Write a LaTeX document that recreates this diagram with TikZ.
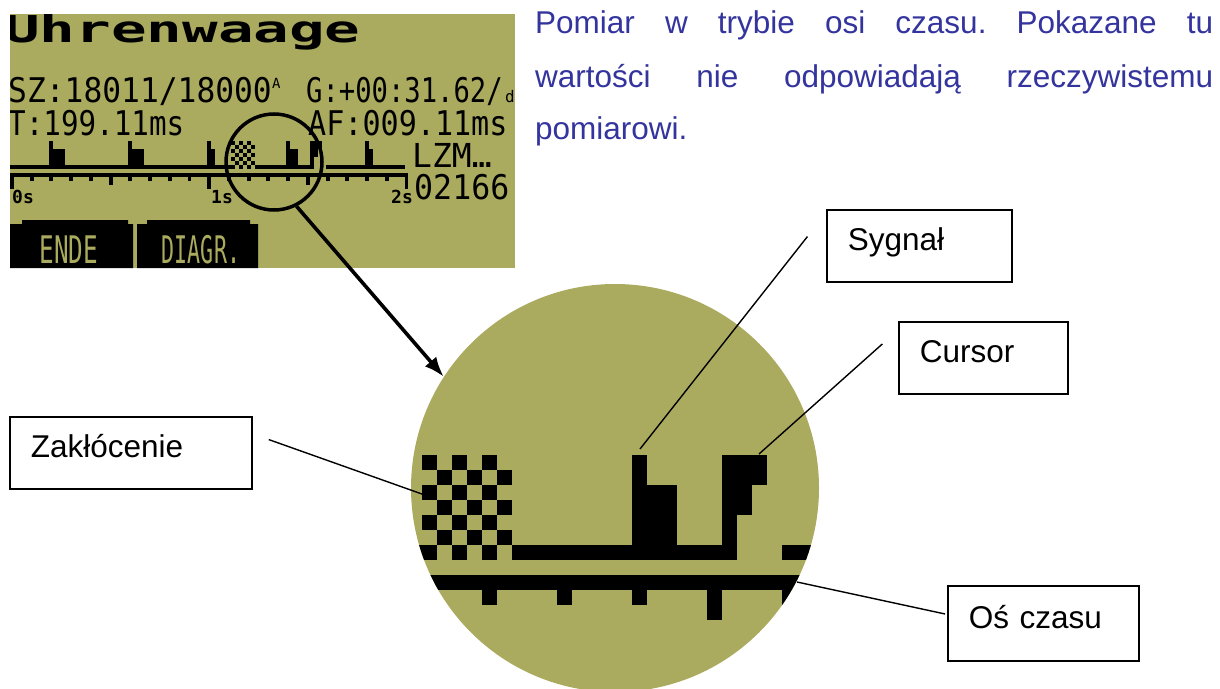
\documentclass[tikz,border=0pt]{standalone}
\usepackage{fontspec}
\setmainfont{Liberation Sans}
\newfontfamily\lcdfont{DejaVu Sans Mono}
\usetikzlibrary{arrows.meta}
\frenchspacing
\definecolor{lcdbg}{RGB}{171,171,96}
\definecolor{notecol}{RGB}{52,52,158}
% block of pixels of the 128x64 display: columns #1..#2, rows #3..#4
\newcommand\lrect[4]{\fill ({10+3.945*(#1)},{14+3.97*(#3)}) rectangle ({13.945+3.945*(#2)},{17.97+3.97*(#4)});}
% block of pixels of the magnified view: columns #1..#2, rows #3..#4
\newcommand\brect[4]{\fill ({422+15*(#1)},{455+15*(#3)}) rectangle ({437+15*(#2)},{470+15*(#4)});}
\tikzset{
  lcdtxt/.style={inner sep=0pt, anchor=base west, font=\lcdfont},
  btntxt/.style={inner sep=0pt, anchor=base, font=\lcdfont, text=lcdbg},
  labelbox/.style={draw, line width=1.8pt, inner xsep=21pt, inner ysep=0pt, align=left,
    text height=20pt, text depth=10pt, minimum height=72pt, anchor=north west,
    font=\fontsize{31.5}{36}\selectfont},
  leader/.style={line width=1.4pt},
  bigarrow/.style={line width=3.6pt, -{Latex[length=20pt,width=15pt]}},
  notetxt/.style={inner sep=0pt, anchor=base west, text=notecol, font=\fontsize{31.5}{36}\selectfont},
}
\begin{document}
\begin{tikzpicture}[x=1pt,y=-1pt]
\useasboundingbox (0,0) rectangle (1220,688);
\fill[white] (0,0) rectangle (1220,688);

% ---------- display ----------
\node[fill=lcdbg, minimum width=505pt, minimum height=254pt, inner sep=0pt, outer sep=0pt, anchor=north west] (lcd) at (10,14) {};
\begin{scope}
\clip (10,14) rectangle (515,268);
\node[lcdtxt] (title) at (4,42) {\fontsize{37}{37}\selectfont\bfseries\scalebox{1.6}[1]{Uhrenwaage}};
\node[lcdtxt] (sz) at (8,102) {\fontsize{34}{34}\selectfont\scalebox{0.92}[1]{SZ:18011/18000}};
\node[lcdtxt] (szsup) at (272,88) {\fontsize{14}{14}\selectfont A};
\node[lcdtxt] (gain) at (306,102) {\fontsize{34}{34}\selectfont\scalebox{0.80}[1]{G:+00:31.62/}};
\node[lcdtxt] (gainunit) at (505,102) {\fontsize{16}{16}\selectfont d};
\node[lcdtxt] (tper) at (8,135) {\fontsize{34}{34}\selectfont\scalebox{0.86}[1]{T:199.11ms}};
\node[lcdtxt] (af) at (308,135) {\fontsize{34}{34}\selectfont\scalebox{0.885}[1]{AF:009.11ms}};
\node[lcdtxt] (lzm) at (412,167) {\fontsize{33}{33}\selectfont LZM…};
\node[lcdtxt] (count) at (414,199) {\fontsize{34}{34}\selectfont\scalebox{0.93}[1]{02166}};
\node[lcdtxt] (t0) at (12,203) {\fontsize{18}{18}\selectfont\bfseries 0s};
\node[lcdtxt] (t1) at (211,203) {\fontsize{18}{18}\selectfont\bfseries 1s};
\node[lcdtxt] (t2) at (391,203) {\fontsize{18}{18}\selectfont\bfseries 2s};

% trace baseline
\lrect{0}{55}{38}{38}
\lrect{62}{76}{38}{38}
\lrect{80}{99}{38}{38}
% noise
\foreach \j in {32,34,36,38} {\foreach \i in {56,58,60} {\lrect{\i}{\i}{\j}{\j}}}
\foreach \j in {33,35,37} {\foreach \i in {57,59,61} {\lrect{\i}{\i}{\j}{\j}}}
% pulses
\foreach \i in {10,30,50,70,90} {\lrect{\i}{\i}{32}{37}}
\lrect{11}{13}{34}{37}
\lrect{31}{33}{34}{37}
\lrect{51}{51}{34}{37}
\lrect{71}{72}{34}{37}
\lrect{91}{91}{34}{37}
% cursor
\lrect{76}{78}{32}{33}
\lrect{76}{77}{34}{35}
\lrect{76}{76}{36}{37}
% time axis
\lrect{0}{100}{40}{40}
\foreach \i in {5,10,15,20,30,35,40,45,55,60,65,70,80,85,90,95} {\lrect{\i}{\i}{41}{41}}
\foreach \i in {25,75} {\lrect{\i}{\i}{41}{42}}
\foreach \i in {0,50,100} {\lrect{\i}{\i}{41}{43}}

% soft keys
\fill (10,268) -- (10,224) -- (22,224) -- (22,220) -- (128,220) -- (128,224) -- (133,224) -- (133,268) -- cycle;
\fill (137,268) -- (137,224) -- (147,224) -- (147,220) -- (250,220) -- (250,224) -- (258,224) -- (258,268) -- cycle;
\node[btntxt] (ende) at (69,263) {\fontsize{38}{38}\selectfont\scalebox{0.64}[1]{ENDE}};
\node[btntxt] (diagr) at (201,263) {\fontsize{38}{38}\selectfont\scalebox{0.57}[1]{DIAGR.}};
\end{scope}

% magnifier ring on the display
\node[circle, draw, line width=3.5pt, minimum size=96pt, inner sep=0pt] (lens) at (274,162) {};

% ---------- note ----------
\node[notetxt] (note1) at (535,33) {\makebox[678pt][s]{Pomiar w trybie osi czasu. Pokazane tu}};
\node[notetxt] (note2) at (535,87) {\makebox[678pt][s]{wartości nie odpowiadają rzeczywistemu}};
\node[notetxt] (note3) at (535,139.5) {pomiarowi.};

% ---------- magnified view ----------
\node[circle, fill=lcdbg, minimum size=408pt, inner sep=0pt] (mag) at (615,488) {};
\begin{scope}
\clip (615,488) circle[radius=204pt];
% trace baseline
\brect{-12}{-1}{6}{6}
\brect{6}{20}{6}{6}
\brect{24}{30}{6}{6}
% noise
\foreach \r in {0,2,4,6} {\foreach \c in {0,2,4} {\brect{\c}{\c}{\r}{\r}}}
\foreach \r in {1,3,5} {\foreach \c in {1,3,5} {\brect{\c}{\c}{\r}{\r}}}
% signal pulse
\brect{14}{14}{0}{5}
\brect{15}{16}{2}{5}
% cursor
\brect{20}{22}{0}{1}
\brect{20}{21}{2}{3}
\brect{20}{20}{4}{5}
% time axis
\brect{-12}{30}{8}{8}
\foreach \c in {-1,4,9,14,24,29} {\brect{\c}{\c}{9}{9}}
\brect{19}{19}{9}{10}
\brect{-6}{-6}{9}{11}
\end{scope}

\draw[bigarrow] (lens.-63) -- (mag.147);

% ---------- labels ----------
\node[labelbox, text width=143pt] (sigbox) at (826,209) {Sygnał};
\node[labelbox, text width=127pt] (curbox) at (898,321) {Cursor};
\node[labelbox, text width=200pt] (zakbox) at (9,416) {Zakłócenie};
\node[labelbox, text width=149pt, minimum height=75pt] (osbox) at (947,585) {Oś czasu};

\coordinate (sigtip) at (640,449);
\coordinate (curtip) at (759,454);
\coordinate (zaktip) at (436,499);
\coordinate (ostip) at (797,582);

\draw[leader, shorten >=30pt] (sigtip) -- ([yshift=-4pt]sigbox.north west);
\draw[leader, shorten >=21pt] (curtip) -- ([yshift=-9pt]curbox.north west);
\draw[leader, shorten <=17pt] ([yshift=19pt]zakbox.east) -- (zaktip);
\draw[leader, shorten >=2pt] (ostip) -- ([yshift=9pt]osbox.west);
\end{tikzpicture}
\end{document}
